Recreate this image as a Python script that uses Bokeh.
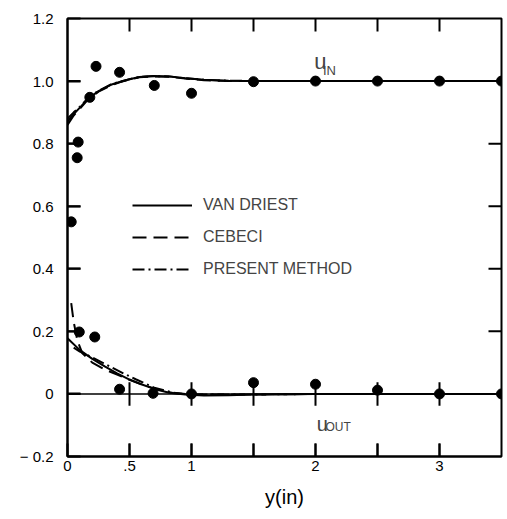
from bokeh.plotting import figure
from bokeh.models import (Range1d, LinearAxis, FixedTicker, Legend, LegendItem,
                          Label, Span)
from bokeh.embed import file_html
from bokeh.resources import INLINE

# ---------------- data ----------------
# measured points, u_IN
pts_in_x = [0.03, 0.078, 0.086, 0.18, 0.23, 0.42, 0.70, 1.0, 1.5, 2.0, 2.5, 3.0, 3.5]
pts_in_y = [0.55, 0.755, 0.805, 0.948, 1.047, 1.028, 0.986, 0.961, 0.998, 1.0, 1.0, 1.0, 1.0]
# measured points, u_OUT
pts_out_x = [0.095, 0.22, 0.42, 0.69, 1.0, 1.5, 2.0, 2.5, 3.0, 3.5]
pts_out_y = [0.198, 0.182, 0.015, 0.002, 0.0, 0.036, 0.031, 0.012, 0.0, 0.0]

# Van Driest (solid)
vd_in_x = [0, 0.05, 0.1, 0.17, 0.25, 0.35, 0.42, 0.5, 0.58, 0.7, 0.82, 0.95, 1.1, 1.3, 1.6, 2.0, 2.5, 3.0, 3.5]
vd_in_y = [0.87, 0.895, 0.915, 0.945, 0.968, 0.988, 0.997, 1.006, 1.013, 1.016, 1.015, 1.009, 1.004, 1.001, 1.0, 1.0, 1.0, 1.0, 1.0]
vd_out_x = [0, 0.1, 0.2, 0.3, 0.4, 0.5, 0.6, 0.7, 0.82, 0.95, 1.1, 1.3, 1.5, 2.0, 2.5, 3.0, 3.5]
vd_out_y = [0.178, 0.14, 0.112, 0.088, 0.066, 0.046, 0.03, 0.016, 0.004, -0.002, -0.005, -0.004, -0.002, 0.0, 0.0, 0.0, 0.0]

# Cebeci (dashed)
ce_in_x = [0, 0.05, 0.1, 0.17, 0.25, 0.35, 0.42, 0.5, 0.58, 0.7, 0.82, 0.95, 1.1, 1.3, 1.6, 2.0, 3.5]
ce_in_y = [0.86, 0.89, 0.912, 0.943, 0.966, 0.986, 0.996, 1.005, 1.012, 1.015, 1.014, 1.008, 1.003, 1.0, 1.0, 1.0, 1.0]
ce_out_x = [0.03, 0.05, 0.08, 0.12, 0.2, 0.3, 0.4, 0.5, 0.6, 0.7, 0.85, 1.0, 1.5, 2.0, 3.5]
ce_out_y = [0.29, 0.23, 0.17, 0.13, 0.1, 0.078, 0.062, 0.045, 0.03, 0.017, 0.003, -0.002, -0.002, 0.0, 0.0]

# Present method (dash-dot)
pm_in_x = [0, 0.05, 0.1, 0.17, 0.25, 0.35, 0.42, 0.5, 0.58, 0.7, 0.82, 0.95, 1.1, 1.3, 1.6, 2.0, 3.5]
pm_in_y = [0.88, 0.9, 0.918, 0.947, 0.969, 0.989, 0.998, 1.006, 1.013, 1.016, 1.015, 1.009, 1.004, 1.001, 1.0, 1.0, 1.0]
pm_out_x = [0.05, 0.1, 0.2, 0.3, 0.45, 0.55, 0.7, 0.85, 1.0, 1.5, 2.0, 3.5]
pm_out_y = [0.148, 0.135, 0.117, 0.096, 0.066, 0.047, 0.02, 0.004, -0.002, -0.002, 0.0, 0.0]

series_names = ["VAN DRIEST", "CEBECI", "PRESENT METHOD"]

x_ticks = [0, 0.5, 1, 1.5, 2, 2.5, 3]
x_tick_labels = ["0", ".5", "1", "", "2", "", "3"]
y_ticks = [-0.2, 0, 0.2, 0.4, 0.6, 0.8, 1.0, 1.2]
y_tick_labels = ["\u2212 0.2", "0", "0.2", "0.4", "0.6", "0.8", "1.0", "1.2"]
zero_cross_x = [0.5, 1, 1.5, 2, 2.5, 3]

X0, X1, Y0, Y1 = 0, 3.5, -0.2, 1.2
FW, FH = 434, 438           # frame size in px
TX = (X1 - X0) / FW * 13    # 13 px tick length in data units
TY = (Y1 - Y0) / FH * 13
FONT = "Liberation Sans"

p = figure(width=507, height=519, output_backend="svg", toolbar_location=None,
           x_range=Range1d(X0, X1), y_range=Range1d(Y0, Y1),
           x_axis_location=None, y_axis_location=None,
           min_border_left=67, min_border_right=6, min_border_top=18, min_border_bottom=63)
p.grid.visible = False
p.outline_line_color = "black"
p.outline_line_width = 2
p.background_fill_color = "white"
p.border_fill_color = "white"

# bottom axis
xb = LinearAxis(ticker=FixedTicker(ticks=x_ticks),
                major_label_overrides={t: l for t, l in zip(x_ticks, x_tick_labels)},
                axis_label="y(in)")
# left axis
yl = LinearAxis(ticker=FixedTicker(ticks=y_ticks),
                major_label_overrides={t: l for t, l in zip(y_ticks, y_tick_labels)})
for ax in (xb, yl):
    ax.axis_line_color = "black"
    ax.axis_line_width = 2
    ax.major_tick_in = 13
    ax.major_tick_out = 0
    ax.major_tick_line_width = 2
    ax.major_tick_line_color = "black"
    ax.minor_tick_line_color = None
    ax.major_label_text_font = FONT
    ax.major_label_text_font_size = "15px"
    ax.major_label_text_color = "black"
xb.major_label_standoff = 4
yl.major_label_standoff = 14
xb.axis_label_text_font = FONT
xb.axis_label_text_font_size = "20px"
xb.axis_label_text_font_style = "normal"
xb.axis_label_text_color = "black"
xb.axis_label_standoff = 12
p.add_layout(xb, "below")
p.add_layout(yl, "left")

# inward tick marks on all four frame edges, at the axis tick positions
yt_in = y_ticks[1:-1]
xt_in = x_ticks[1:]
tick_xs, tick_ys = [], []
for y in yt_in:
    tick_xs += [[X0, X0 + TX], [X1, X1 - TX]]
    tick_ys += [[y, y], [y, y]]
for x in xt_in:
    tick_xs += [[x, x], [x, x]]
    tick_ys += [[Y0, Y0 + TY], [Y1, Y1 - TY]]
for x in zero_cross_x:
    tick_xs.append([x, x])
    tick_ys.append([-0.9 * TY, 0.9 * TY])
p.multi_line(tick_xs, tick_ys, line_color="black", line_width=2)

# zero reference line
p.add_layout(Span(location=0, dimension="width", line_color="black", line_width=1.5))

# curves
lw = 2
r_vd = p.line(vd_in_x, vd_in_y, line_color="black", line_width=lw)
p.line(vd_out_x, vd_out_y, line_color="black", line_width=lw)
r_ce = p.line(ce_in_x, ce_in_y, line_color="black", line_width=lw, line_dash="14 7")
p.line(ce_out_x, ce_out_y, line_color="black", line_width=lw, line_dash="14 7")
r_pm = p.line(pm_in_x, pm_in_y, line_color="black", line_width=lw, line_dash="12 4 2 4")
p.line(pm_out_x, pm_out_y, line_color="black", line_width=lw, line_dash="12 4 2 4")

# measured points
p.scatter(pts_in_x, pts_in_y, size=10, fill_color="black", line_color="black")
p.scatter(pts_out_x, pts_out_y, size=10, fill_color="black", line_color="black")

legend = Legend(items=[LegendItem(label=series_names[0], renderers=[r_vd]),
                       LegendItem(label=series_names[1], renderers=[r_ce]),
                       LegendItem(label=series_names[2], renderers=[r_pm])],
                location=(65, 177), glyph_width=60, glyph_height=20, label_height=20,
                spacing=12, padding=0, margin=0, label_standoff=11,
                label_text_font=FONT, label_text_font_size="16px",
                border_line_color=None, background_fill_alpha=0)
p.add_layout(legend)

# u_IN / u_OUT labels
p.add_layout(Label(x=1.99, y=1.064, text="u", text_font=FONT, text_font_size="22px",
                   text_baseline="middle", text_align="left"))
p.add_layout(Label(x=2.06, y=1.034, text="IN", text_font=FONT, text_font_size="13px",
                   text_baseline="middle", text_align="left"))
p.add_layout(Label(x=2.01, y=-0.095, text="u", text_font=FONT, text_font_size="20px",
                   text_baseline="middle", text_align="left"))
p.add_layout(Label(x=2.08, y=-0.106, text="OUT", text_font=FONT, text_font_size="12px",
                   text_baseline="middle", text_align="left"))

open("out.html", "w").write(file_html(p, INLINE))
